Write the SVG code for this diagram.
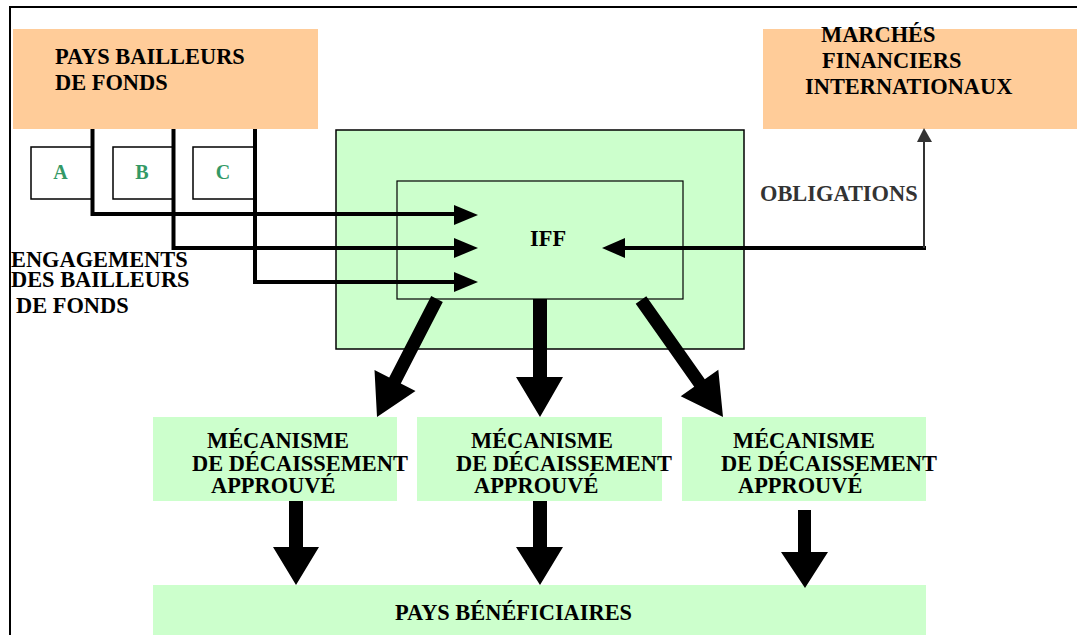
<svg xmlns="http://www.w3.org/2000/svg" width="1077" height="635" viewBox="0 0 1077 635">
<style>
text{font-family:"Liberation Serif","Times New Roman",serif;font-weight:bold;font-size:22.4px;fill:#000}
.orange{fill:#FFCC99}
.green{fill:#CCFFCC}
.letter{fill:#339966;font-size:20px}
.small{fill:#fff;stroke:#000;stroke-width:1.5}
.thick{fill:none;stroke:#000;stroke-width:4}
.head{fill:#000}
.gray{fill:#333}
</style>
<rect x="0" y="0" width="1077" height="635" fill="#fff"/>
<g id="frame">
<path d="M10 635 V7 H1077" fill="none" stroke="#000" stroke-width="2"/>
</g>
<g id="pays-bailleurs">
<rect class="orange" x="13" y="29" width="305" height="100"/>
<text x="55" y="64">PAYS BAILLEURS</text>
<text x="55" y="90">DE FONDS</text>
</g>
<g id="marches">
<rect class="orange" x="763" y="29" width="314" height="100"/>
<text x="821" y="42">MARCHÉS</text>
<text x="822" y="68">FINANCIERS</text>
<text x="805" y="94">INTERNATIONAUX</text>
</g>
<g id="box-a"><rect class="small" x="31" y="147" width="61" height="52"/><text class="letter" x="60.5" y="179" text-anchor="middle">A</text></g>
<g id="box-b"><rect class="small" x="113" y="147" width="60" height="52"/><text class="letter" x="142" y="179" text-anchor="middle">B</text></g>
<g id="box-c"><rect class="small" x="193" y="147" width="62" height="52"/><text class="letter" x="223" y="179" text-anchor="middle">C</text></g>
<g id="engagements">
<text x="11" y="267">ENGAGEMENTS</text>
<text x="11" y="287">DES BAILLEURS</text>
<text x="16" y="313">DE FONDS</text>
</g>
<g id="iff-outer">
<rect class="green" x="336" y="130" width="408" height="219" stroke="#000" stroke-width="1.5"/>
</g>
<g id="iff">
<rect class="green" x="397" y="181" width="286" height="118" stroke="#000" stroke-width="1.2"/>
<text x="530" y="246">IFF</text>
</g>
<g id="obligations-label">
<text x="760" y="201" style="fill:#333">OBLIGATIONS</text>
</g>
<g id="mech-1">
<rect class="green" x="153" y="417" width="244" height="84"/>
<text x="207" y="448">MÉCANISME</text>
<text x="192" y="471">DE DÉCAISSEMENT</text>
<text x="211" y="493">APPROUVÉ</text>
</g>
<g id="mech-2">
<rect class="green" x="417" y="417" width="245" height="84"/>
<text x="471" y="448">MÉCANISME</text>
<text x="456" y="471">DE DÉCAISSEMENT</text>
<text x="474" y="493">APPROUVÉ</text>
</g>
<g id="mech-3">
<rect class="green" x="682" y="417" width="244" height="84"/>
<text x="733" y="448">MÉCANISME</text>
<text x="721" y="471">DE DÉCAISSEMENT</text>
<text x="738" y="493">APPROUVÉ</text>
</g>
<g id="beneficiaires">
<rect class="green" x="153" y="585" width="773" height="52"/>
<text x="395" y="620">PAYS BÉNÉFICIAIRES</text>
</g>
<g id="connectors">
<path class="thick" d="M92.5 129 V214 H456"/>
<polygon class="head" points="454,205 478,215 454,225"/>
<path class="thick" d="M173.5 129 V248 H456"/>
<polygon class="head" points="454,238 478,248 454,258"/>
<path class="thick" d="M255 129 V282 H456"/>
<polygon class="head" points="454,272 478,282 454,292"/>
<path class="thick" d="M926 248 H623"/>
<polygon class="head" points="625,238 602,248 625,258"/>
<path d="M924 248 V140" fill="none" stroke="#333" stroke-width="2"/>
<polygon class="gray" points="917,142 924,128 932,142"/>
<polygon class="head" points="431.2,296.1 389.2,377.6 374.5,370.1 377,417 415.5,390.9 400.8,383.4 442.8,301.9"/>
<polygon class="head" points="533,299 547,299 547,377 563,377 540,417 516,377 533,377"/>
<polygon class="head" points="635.7,303.7 694.2,386.7 680.7,396.2 723,417 718.3,369.8 704.8,379.3 646.3,296.3"/>
<polygon class="head" points="289,501 303,501 303,547 319,547 296,585 273,547 289,547"/>
<polygon class="head" points="533,501 547,501 547,547 563,547 540,585 516,547 533,547"/>
<polygon class="head" points="798,510 811,510 811,552 828,552 805,588 781,552 798,552"/>
</g>
</svg>
